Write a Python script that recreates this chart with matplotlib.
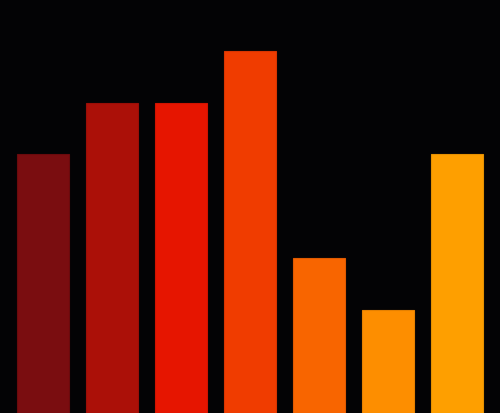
import numpy as np
import matplotlib.pyplot as plt

# Datos
categorias = ["A", "B", "C", "D", "E", "F", "G"]
valores = [5, 6, 6, 7, 3, 2, 5]
colores = ["#7a0d10", "#ab1008", "#e61500", "#f03c00", "#f86500", "#fd8e00", "#fe9f00"]
bordes = ["#6a0a0d", "#9a0e07", "#d01300", "#d83500", "#e05a00", "#e58000", "#e69000"]

x = np.arange(len(categorias))

fig = plt.figure(figsize=(5.0, 4.14), dpi=100)
fig.patch.set_facecolor("#030305")
ax = fig.add_axes([0, 0, 1, 1])
ax.set_facecolor("#030305")

ax.bar(x, valores, width=52 / 69, color=colores, edgecolor=bordes, linewidth=0.8)

ax.set_xlim(-43 / 69, len(categorias) - 1 + 43 / 69)
ax.set_ylim(0, 8)
ax.axis("off")

fig.savefig("out.png", dpi=100, facecolor=fig.get_facecolor())
